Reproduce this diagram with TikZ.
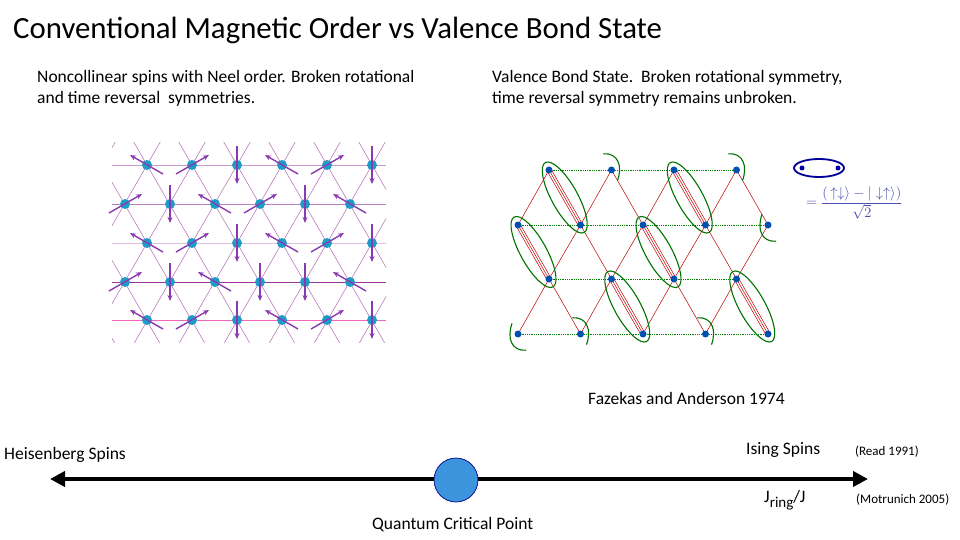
\documentclass[tikz,border=0pt]{standalone}
\usepackage{fontspec}
\setmainfont{Carlito}
\usetikzlibrary{arrows.meta}
\definecolor{spinc}{HTML}{8A3AB0}
\definecolor{sitec}{HTML}{1E9CC8}
\begin{document}
\begin{tikzpicture}[x=1pt,y=-1pt,
  site/.style={circle,fill=sitec,minimum size=10pt,inner sep=0pt},
  spin/.style={draw=spinc,line width=1.4pt,-{Stealth[length=6pt,width=5pt]}},
  vb/.style={circle,fill=blue!55!cyan!70!black,minimum size=7pt,inner sep=0pt},
  dimer/.style={draw=green!45!black,line width=1.1pt},
  txt/.style={font=\fontsize{17.5}{21}\selectfont,align=left,anchor=north west,inner sep=0pt}]
\useasboundingbox (0,0) rectangle (960,540);
\node[anchor=west,inner sep=0pt,font=\fontsize{30.8}{34}\selectfont] (title) at (13,30) {Conventional Magnetic Order vs Valence Bond State};
\node[txt] (t1) at (37,70) {Noncollinear spins with Neel order. Broken rotational\\and time reversal\ \ symmetries.};
\node[txt] (t2) at (492,70) {Valence Bond State.\ \ Broken rotational symmetry,\\time reversal symmetry remains unbroken.};
% left lattice
\begin{scope}
\clip (112,143) rectangle (386,342);
\foreach \y/\c in {165/violet!40,204/violet!50,243/violet!25,282/violet!80,320/magenta!60}
  \draw[\c,line width=0.8pt] (112,\y) -- (386,\y);
\foreach \i in {-8,...,10}{
  \draw[violet!60,line width=0.5pt] (147+45*\i-150,165-260) -- ++(300,520);
  \draw[violet!60,line width=0.5pt] (147+45*\i+150,165-260) -- ++(-300,520);}
\end{scope}
\foreach \y/\xs/\r in {165/147/1,204/125/2,243/147/3,282/125/4,320/147/5}{
  \ifnum\r=2 \def\pat{R,D,L,R,D,L}\else\ifnum\r=4 \def\pat{R,D,L,D,D,L}\else\def\pat{L,R,D,L,R,D}\fi\fi
  \foreach \d [count=\k] in \pat {
    \pgfmathsetmacro\xx{\xs+45*(\k-1)}
    \node[site] (s\r-\k) at (\xx,\y) {};
    \if\d D \draw[spin] ([yshift=19pt]s\r-\k.center) -- ([yshift=-19pt]s\r-\k.center);\fi
    \if\d R \draw[spin] ([shift={(-16pt,-9pt)}]s\r-\k.center) -- ([shift={(17pt,10pt)}]s\r-\k.center);\fi
    \if\d L \draw[spin] ([shift={(16pt,-9pt)}]s\r-\k.center) -- ([shift={(-17pt,10pt)}]s\r-\k.center);\fi
  }}
% right lattice
\foreach \y/\xs/\n [count=\r] in {170/549/4,225/518/5,279/549/4,334/518/5}
  \foreach \k in {1,...,\n}{
    \pgfmathsetmacro\xx{\xs+62.5*(\k-1)}
    \coordinate (v\r-\k) at (\xx,\y);}
\foreach \r/\n in {1/4,2/5,3/4,4/5}
  \foreach \k in {2,...,\n}{\pgfmathtruncatemacro\j{\k-1}
    \draw[green!50!black,densely dotted,line width=0.8pt] (v\r-\j) -- (v\r-\k);}
\foreach \k in {1,...,4}{\pgfmathtruncatemacro\j{\k+1}
  \draw[red!75!black,line width=0.5pt] (v1-\k) -- (v2-\k) (v1-\k) -- (v2-\j)
     (v3-\k) -- (v2-\k) (v3-\k) -- (v2-\j) (v3-\k) -- (v4-\k) (v3-\k) -- (v4-\j);}
\foreach \a/\b in {v1-1/v2-2,v2-1/v3-1,v2-3/v3-3,v1-3/v2-4,v3-2/v4-3,v3-4/v4-5}{
  \draw[red!75!black,line width=0.5pt] ([xshift=-2.5pt]\a) -- ([xshift=-2.5pt]\b) ([xshift=2.5pt]\a) -- ([xshift=2.5pt]\b);
  \path (\a) -- (\b) coordinate[pos=0.5] (m);
  \draw[dimer,rotate around={-61:(m)}] (m) ellipse (40 and 13);}
% partial arcs
\foreach \p/\r in {v1-2/20,v1-4/20,v2-5/200,v4-1/200,v4-2/20,v4-4/20}
  \draw[dimer,rotate around={\r:(\p)}] ([shift={(-2,-18)}]\p) .. controls ++(14,4) and ++(10,-12) .. ([shift={(2,12)}]\p);
\foreach \r/\n in {1/4,2/5,3/4,4/5}
  \foreach \k in {1,...,\n} \node[vb] (n\r-\k) at (v\r-\k) {};
% legend
\draw[blue!60!black,line width=1.8pt] (819,168) ellipse (25 and 9);
\node[vb,minimum size=5pt,fill=blue!70!black] (la) at (802,168) {};
\node[vb,minimum size=5pt,fill=blue!70!black] (lb) at (838,168) {};
\node[anchor=west,inner sep=0pt,text=blue!40!gray,font=\fontsize{15}{18}\selectfont] (form) at (806,203) {$\displaystyle=\frac{(\,\uparrow\downarrow\rangle-|\downarrow\uparrow\rangle)}{\sqrt2}$};
% bottom
\node[txt,anchor=west] (fa) at (588,398) {Fazekas and Anderson 1974};
\node[txt,anchor=west] (hs) at (4,455) {Heisenberg Spins};
\node[txt,anchor=west] (is) at (746,450) {Ising Spins};
\node[anchor=west,inner sep=0pt,font=\fontsize{13}{15}\selectfont] (rd) at (855,452) {(Read 1991)};
\node[txt,anchor=west] (jr) at (764,500) {J\raisebox{-5pt}{\fontsize{15}{15}\selectfont ring}/J};
\node[anchor=west,inner sep=0pt,font=\fontsize{13}{15}\selectfont] (mo) at (856,500) {(Motrunich 2005)};
\coordinate (le) at (50,479);
\coordinate (re) at (868,479);
\draw[line width=4.5pt,{Triangle[length=15pt,width=15pt]}-{Triangle[length=15pt,width=15pt]}] (le) -- (re);
\node[circle,minimum size=44pt,fill=blue!45!cyan!70!gray!90,draw=blue!50!black,line width=0.7pt] (qcp) at (456,480) {};
\node[txt,anchor=west] (qc) at (372,525) {Quantum Critical Point};
\end{tikzpicture}
\end{document}
